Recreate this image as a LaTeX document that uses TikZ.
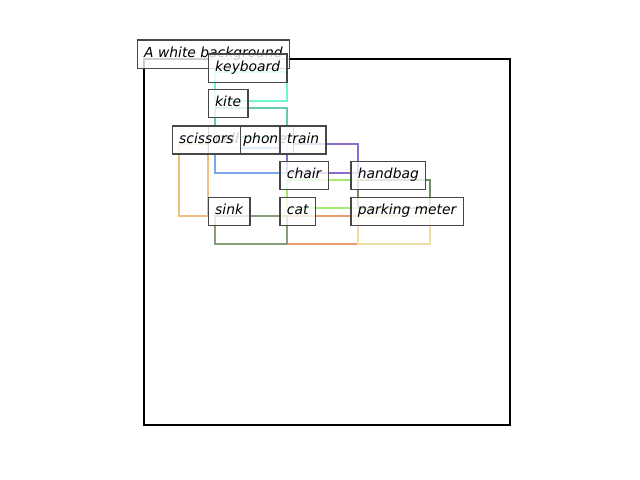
\documentclass[tikz,border=0pt]{standalone}
\usepackage{fontspec}
\setmainfont{DejaVu Sans}
\definecolor{caqua}{HTML}{6FF5CF}
\definecolor{cteal}{HTML}{66C8AE}
\definecolor{cblue}{HTML}{7BA6E8}
\definecolor{corange}{HTML}{F2BE80}
\definecolor{cpurple}{HTML}{8E6CCB}
\definecolor{cgreen}{HTML}{A4EB6E}
\definecolor{cdkgreen}{HTML}{708C63}
\definecolor{csalmon}{HTML}{EE9A72}
\definecolor{csinkcat}{HTML}{879E7B}
\definecolor{cwheat}{HTML}{EEDFA4}
\begin{document}
\begin{tikzpicture}[x=0.01in,y=-0.01in,
  rel/.style={line width=2pt, line join=miter},
  lbl/.style={draw=black!72, line width=1pt, fill=white, fill opacity=0.8, text opacity=1,
    anchor=west, outer sep=0pt, inner xsep=5pt, inner ysep=5.2pt,
    text height=7.2pt, text depth=2.8pt, font=\fontsize{10pt}{12pt}\selectfont\itshape}]
\useasboundingbox (0,0) rectangle (640,480);
% relation lines
\draw[rel, caqua]    (215,72)  rectangle (287,101);
\draw[rel, cteal]    (215,108) rectangle (287,137);
\draw[rel, cblue]    (215,148) rectangle (287,173);
\draw[rel, corange]  (179,144) rectangle (208,216);
\draw[rel, cpurple]  (287,144) rectangle (358,173);
\draw[rel, cgreen]   (287,180) rectangle (358,208);
\draw[rel, cdkgreen] (358,180) rectangle (430,208);
\draw[rel, csalmon]  (287,216) rectangle (358,244);
\draw[rel, csinkcat] (215,216) rectangle (287,244);
\draw[rel, cwheat]   (358,216) rectangle (430,244);
% axes frame
\draw[line width=1.5pt, black] (144,59) rectangle (510,425);
% labels
\node[lbl] (bg) at (137.3,54.2) {A white background};
\node[lbl] (keyboard) at (208.3,68.3) {keyboard};
\node[lbl] (kite) at (208.3,103.5) {kite};
\node[lbl] (cellphone) at (208.3,140) {cell phone};
\node[lbl] (scissors) at (172.3,140) {scissors};
\node[lbl] (train) at (280,140) {train};
\node[lbl] (chair) at (280,175.5) {chair};
\node[lbl] (handbag) at (351,175.5) {handbag};
\node[lbl] (sink) at (208.3,211.5) {sink};
\node[lbl] (cat) at (280,211.5) {cat};
\node[lbl] (parking) at (351,211.5) {parking meter};
\end{tikzpicture}
\end{document}
